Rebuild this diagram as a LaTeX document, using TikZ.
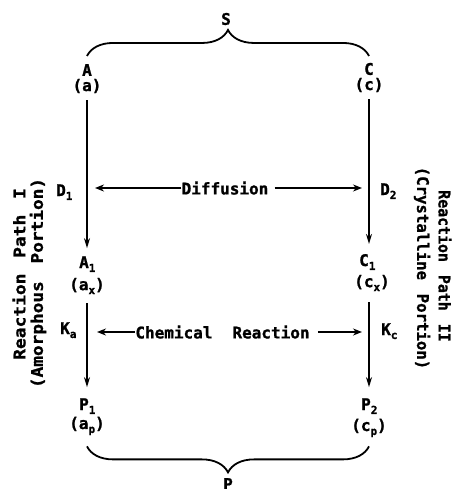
\documentclass[tikz,border=0pt]{standalone}
\usepackage{fontspec}
\setmainfont{DejaVu Sans Mono}[BoldFeatures={FakeBold=1.2}]
\usetikzlibrary{arrows.meta,decorations.pathreplacing}
\newcommand\lsub[1]{\raisebox{-0.45ex}{\fontsize{11}{11}\selectfont #1}}
\begin{document}
\begin{tikzpicture}[x=1pt,y=-1pt,
  lbl/.style={inner sep=0pt, font=\fontsize{16}{16}\selectfont\bfseries},
  side/.style={inner sep=0pt, font=\fontsize{16}{16}\selectfont\bfseries},
  varrow/.style={line width=1.4pt, -{Stealth[length=10pt,width=6pt]}},
  harrow/.style={line width=1.8pt, -{Stealth[length=9pt,width=7pt]}},
  bracestyle/.style={line width=1.8pt, decorate, decoration={brace, amplitude=26pt}}]
\useasboundingbox (0,0) rectangle (460,489);
% top
\node[lbl] (S) at (226,19) {S};
\node[lbl] (A) at (87,70) {A};
\node[lbl] (a) at (87,86) {(a)};
\node[lbl] (C) at (369,69) {C};
\node[lbl] (c) at (369,85) {(c)};
% middle
\node[lbl, anchor=base west] (D1) at (56,196) {D\lsub{1}};
\node[lbl, anchor=base west] (D2) at (380,195) {D\lsub{2}};
\node[lbl] (dif) at (225,188) {Diffusion};
\node[lbl, anchor=base west] (A1) at (79,268) {A\lsub{1}};
\node[lbl] (ax) at (87,286) {(a\lsub{x})};
\node[lbl, anchor=base west] (C1) at (359,266) {C\lsub{1}};
\node[lbl] (cx) at (372,283) {(c\lsub{x})};
\node[lbl, anchor=base west] (Ka) at (60,334) {K\lsub{a}};
\node[lbl, anchor=base west] (Kc) at (381,335) {K\lsub{c}};
\node[lbl] (chem) at (222.5,332) {Chemical\hspace{20pt}Reaction};
% bottom
\node[lbl, anchor=base west] (P1) at (79,410) {P\lsub{1}};
\node[lbl] (ap) at (87,426) {(a\lsub{p})};
\node[lbl, anchor=base west] (P2) at (361,410) {P\lsub{2}};
\node[lbl] (cp) at (369,428) {(c\lsub{p})};
\node[lbl] (P) at (228,484) {P};
% side labels
\node[side, rotate=90] (L1) at (19,274) {\scalebox{1.12}[1]{Reaction\hspace{14pt}Path\hspace{14pt}I}};
\node[side, rotate=90] (L2) at (38,283) {\scalebox{1.11}[1]{(Amorphous\hspace{16pt}Portion)}};
\node[side, rotate=-90] (R2) at (422,268) {\scalebox{0.98}[1]{(Crystalline\hspace{14pt}Portion)}};
\node[side, rotate=-90] (R1) at (445,266) {\scalebox{0.93}[1]{Reaction\hspace{14pt}Path\hspace{14pt}II}};
% vertical arrows
\draw[varrow, shorten <=7pt, shorten >=8pt] (a.south) -- (a.south |- A1.north);
\draw[varrow, shorten <=9pt, shorten >=11pt] (ax.south) -- (ax.south |- P1.north);
\draw[varrow, shorten <=7pt, shorten >=10pt] (c.south) -- (c.south |- C1.north);
\draw[varrow, shorten <=11pt, shorten >=11pt] (c.south |- cx.south) -- (c.south |- P2.north);
% horizontal arrows
\draw[harrow, shorten >=8pt] (dif.west) -- (a.south |- dif.west);
\draw[harrow, shorten <=6pt, shorten >=7pt] (dif.east) -- (c.south |- dif.east);
\draw[harrow, shorten >=10pt] (chem.west) -- (a.south |- chem.west);
\draw[harrow, shorten <=8pt, shorten >=7pt] (chem.east) -- (c.south |- chem.east);
% braces
\coordinate (tl) at ([yshift=8pt]A.north);
\coordinate (tr) at (C.north -| c.south);
\coordinate (trr) at ([yshift=8pt]tr);
\draw[bracestyle] (tl) -- (tl -| trr);
\coordinate (bl) at ([yshift=-11pt]ap.south);
\draw[bracestyle] (bl -| cp.south) -- (bl);
\end{tikzpicture}
\end{document}
